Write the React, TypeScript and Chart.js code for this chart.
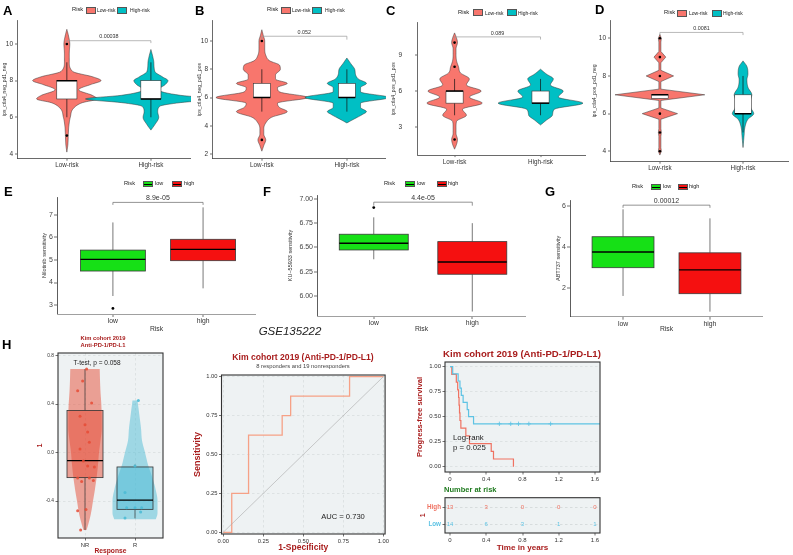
import React, { useEffect, useRef } from 'react';
import { Chart, registerables } from 'chart.js';

Chart.register(...registerables);

const FONT = '"Liberation Sans", Arial, Helvetica, sans-serif';
const SALMON = '#F8766D';
const TEAL = '#00BFC4';
const GREEN = '#16E016';
const RED = '#F51010';
const DARKRED = '#A81C1C';
const NPG_RED = '#E64B35';
const NPG_BLUE = '#4DBBD5';
const KM_HIGH = '#EF7262';
const KM_LOW = '#5EC3E4';
const ROC_COL = '#F6A186';
const PANEL_BG = '#EEF2F3';

// ======================= DATA =======================
// Row 1 (A–D): violin + box plots, Low-risk vs High-risk
const RISK_LABELS = ['Low-risk', 'High-risk'];

const A_TICKS = [4, 6, 8, 10];
const A_LOW_Y = [4.1, 4.5, 5, 5.5, 6, 6.5, 6.8, 7, 7.2, 7.5, 7.8, 8, 8.2, 8.5, 9, 9.5, 10, 10.5, 10.8];
const A_LOW_D = [0, 0.012, 0.017, 0.023, 0.041, 0.081, 0.186, 0.36, 0.302, 0.14, 0.291, 0.407, 0.314, 0.07, 0.029, 0.029, 0.035, 0.017, 0];
const A_HIGH_Y = [5.3, 5.6, 6, 6.3, 6.6, 6.8, 7, 7.2, 7.5, 7.8, 8, 8.2, 8.5, 9, 9.3, 9.7];
const A_HIGH_D = [0, 0.047, 0.093, 0.081, 0.105, 0.349, 0.779, 0.349, 0.093, 0.174, 0.203, 0.14, 0.047, 0.035, 0.023, 0];
const A_LOW_BOX = [6, 7, 8, 8, 9]; // lower whisker, Q1, median, Q3, upper whisker
const A_HIGH_BOX = [6, 7, 7, 8, 9];
const A_LOW_OUT = [10, 5];
const A_HIGH_OUT: number[] = [];
const A_P = '0.00038';

const B_TICKS = [2, 4, 6, 8, 10];
const B_LOW_Y = [2.2, 2.6, 3, 3.4, 3.8, 4.2, 4.6, 5, 5.3, 5.6, 6, 6.4, 6.7, 7, 7.3, 7.6, 8, 8.3, 8.6, 9, 9.5, 10, 10.4, 10.8];
const B_LOW_D = [0, 0.023, 0.046, 0.023, 0.023, 0.046, 0.115, 0.299, 0.207, 0.184, 0.54, 0.207, 0.184, 0.299, 0.161, 0.161, 0.218, 0.207, 0.092, 0.046, 0.034, 0.034, 0.017, 0];
const B_HIGH_Y = [4.2, 4.5, 4.8, 5, 5.3, 5.6, 6, 6.4, 6.7, 7, 7.3, 7.6, 8, 8.4, 8.8];
const B_HIGH_D = [0, 0.092, 0.184, 0.23, 0.161, 0.161, 0.494, 0.161, 0.161, 0.23, 0.138, 0.103, 0.092, 0.046, 0];
const B_LOW_BOX = [5, 6, 6, 7, 8];
const B_HIGH_BOX = [5, 6, 6, 7, 8];
const B_LOW_OUT = [10, 3];
const B_HIGH_OUT: number[] = [];
const B_P = '0.052';

const C_TICKS = [3, 6, 9];
const C_LOW_Y = [1.2, 1.6, 2, 2.5, 3, 3.5, 4, 4.5, 5, 5.5, 6, 6.5, 7, 7.5, 8, 8.5, 9, 9.5, 10, 10.5, 10.8];
const C_LOW_D = [0, 0.023, 0.034, 0.017, 0.017, 0.023, 0.138, 0.092, 0.322, 0.172, 0.31, 0.138, 0.172, 0.069, 0.046, 0.023, 0.017, 0.017, 0.034, 0.017, 0];
const C_HIGH_Y = [3.2, 3.6, 4, 4.5, 5, 5.5, 6, 6.5, 7, 7.4, 7.8];
const C_HIGH_D = [0, 0.069, 0.138, 0.161, 0.494, 0.207, 0.264, 0.115, 0.149, 0.069, 0];
const C_LOW_BOX = [4, 5, 6, 6, 7];
const C_HIGH_BOX = [4, 5, 5, 6, 7];
const C_LOW_OUT = [10, 8, 2];
const C_HIGH_OUT: number[] = [];
const C_P = '0.089';

const D_TICKS = [4, 6, 8, 10];
const D_LOW_Y = [3.8, 4, 4.2, 4.8, 5, 5.2, 5.7, 6, 6.3, 6.7, 7, 7.3, 7.7, 8, 8.3, 8.7, 9, 9.3, 9.8, 10, 10.2];
const D_LOW_D = [0, 0.018, 0.012, 0.012, 0.018, 0.012, 0.012, 0.212, 0.012, 0.012, 0.54, 0.012, 0.012, 0.165, 0.012, 0.012, 0.071, 0.012, 0.012, 0.018, 0];
const D_HIGH_Y = [4.2, 4.8, 5.3, 5.7, 6, 6.3, 6.6, 7, 7.4, 7.8, 8.1, 8.5, 8.8];
const D_HIGH_D = [0, 0.012, 0.024, 0.059, 0.129, 0.094, 0.082, 0.106, 0.059, 0.047, 0.059, 0.047, 0];
const D_LOW_BOX = [7, 6.8, 7, 7, 7];
const D_HIGH_BOX = [5, 6, 6, 7, 8];
const D_LOW_OUT = [10, 9, 8, 6, 5, 4];
const D_HIGH_OUT: number[] = [];
const D_P = '0.0081';

// Row 2 (E–G): drug sensitivity box plots
const DRUG_LABELS = ['low', 'high'];
const E_TICKS = [3, 4, 5, 6, 7];
const E_LOW_BOX = [3.4, 4.51, 5.03, 5.44, 6.67];
const E_HIGH_BOX = [3.74, 4.97, 5.47, 5.92, 7.34];
const E_LOW_OUT = [2.85];
const E_P = '8.9e-05';

const F_TICKS = [6, 6.25, 6.5, 6.75, 7];
const F_TICK_LABELS = ['6.00', '6.25', '6.50', '6.75', '7.00'];
const F_LOW_BOX = [6.378, 6.474, 6.543, 6.636, 6.81];
const F_HIGH_BOX = [5.84, 6.224, 6.35, 6.56, 6.75];
const F_LOW_OUT = [6.91];
const F_P = '4.4e-05';

const G_TICKS = [2, 4, 6];
const G_LOW_BOX = [1.63, 3.0, 3.76, 4.5, 5.83];
const G_HIGH_BOX = [0.87, 1.74, 2.89, 3.72, 5.39];
const G_P = '0.00012';

// Row 3 (H): GSE135222
const RESP_LABELS = ['NR', 'R'];
const H_TICKS = [-0.4, 0, 0.4, 0.8];
const H_TICK_LABELS = ['-0.4', '0.0', '0.4', '0.8'];
const NR_VIOLIN_Y = [-0.64, -0.6, -0.5, -0.4, -0.3, -0.2, -0.1, 0, 0.1, 0.2, 0.3, 0.4, 0.5, 0.6, 0.69];
const NR_VIOLIN_D = [0.03, 0.06, 0.12, 0.16, 0.2, 0.234, 0.26, 0.28, 0.31, 0.334, 0.334, 0.326, 0.31, 0.3, 0.294];
const R_VIOLIN_Y = [-0.55, -0.5, -0.4, -0.3, -0.2, -0.1, 0, 0.1, 0.2, 0.3, 0.43];
const R_VIOLIN_D = [0.416, 0.45, 0.45, 0.41, 0.34, 0.26, 0.2, 0.14, 0.12, 0.09, 0.05];
const NR_BOX = [-0.64, -0.207, -0.066, 0.348, 0.69];
const R_BOX = [-0.543, -0.469, -0.392, -0.119, -0.1];
const NR_VALUES = [0.69, 0.59, 0.51, 0.41, 0.3, 0.23, 0.17, 0.085, 0.03, -0.07, -0.11, -0.12, -0.21, -0.21, -0.23, -0.24, -0.47, -0.48, -0.64];
const NR_JITTER = [0.033, -0.047, -0.147, 0.133, -0.1, 0, 0.053, 0.087, -0.1, -0.033, 0.053, 0.187, -0.147, 0.087, 0.167, -0.067, 0.02, -0.147, -0.087];
const R_VALUES = [0.43, -0.11, -0.33, -0.455, -0.455, -0.455, -0.49, -0.54];
const R_JITTER = [0.067, 0, -0.2, -0.167, 0, 0.133, 0.113, -0.2];

const ROC_TICKS = [0, 0.25, 0.5, 0.75, 1];
const ROC_TICK_LABELS = ['0.00', '0.25', '0.50', '0.75', '1.00'];
const ROC_FPR = [0, 0.053, 0.158, 0.368, 0.421, 0.789, 1];
const ROC_TPR = [0, 0.25, 0.625, 0.75, 0.875, 1, 1];

const KM_Y_TICKS = [0, 0.25, 0.5, 0.75, 1];
const KM_Y_LABELS = ['0.00', '0.25', '0.50', '0.75', '1.00'];
const KM_X_TICKS = [0, 0.4, 0.8, 1.2, 1.6];
const KM_X_LABELS = ['0', '0.4', '0.8', '1.2', '1.6'];
const KM_LOW_T = [0, 0.03, 0.09, 0.11, 0.125, 0.145, 0.19, 0.205, 0.26, 1.66];
const KM_LOW_S = [1, 0.929, 0.857, 0.786, 0.714, 0.643, 0.571, 0.5, 0.429, 0.429];
const KM_LOW_CENSOR_T = [0.545, 0.67, 0.756, 0.87, 1.11];
const KM_HIGH_T = [0, 0.02, 0.07, 0.085, 0.095, 0.1, 0.105, 0.11, 0.12, 0.175, 0.215, 0.455, 0.48, 0.7];
const KM_HIGH_S = [1, 0.923, 0.846, 0.769, 0.692, 0.615, 0.538, 0.462, 0.385, 0.308, 0.231, 0.154, 0.077, 0];
const RISK_ROWS = ['Low', 'High'];
const RISK_HIGH_N = [13, 3, 0, 0, 0];
const RISK_LOW_N = [14, 6, 3, 1, 1];

// ======================= HELPERS =======================
type Rect = { l: number; t: number; r: number; b: number };
type AxisSpec = {
  min: number; max: number; ticks: number[]; labels?: string[];
  fontSize: number; color?: string | string[]; bold?: boolean;
  tickLen: number; tickPad: number; tickColor?: string;
  line?: boolean; lineColor?: string; lineWidth?: number;
  grid?: { color: string; width: number; dash?: number[] };
  title?: string; titleSize?: number; titleColor?: string; titleBold?: boolean;
};
type Violin = { x: number; ys: number[]; ws: number[]; fill: string; stroke: string; lw: number; smooth: boolean };
type Box = { x: number; half: number; s: number[]; fill: string; stroke: string; lw: number; medW: number; whisker: string; whiskerW: number };
type Bracket = { y: number; y1: number; y2: number; text: string; color: string; textColor: string; size: number };
type DText = { x: number; y: number; text: string; color: string; size: number; bold?: boolean };
type Kit = { bg?: string; border?: { color: string; width: number }; violins?: Violin[]; boxes?: Box[]; bracket?: Bracket; texts?: DText[] };
type PanelSpec = { canvas: Rect; area: Rect; x: AxisSpec; y: AxisSpec; yTitleX?: number; padL?: number; xTitleY?: number; datasets: any[]; kit: Kit };

function monotone(ys: number[], ws: number[], steps: number): Array<[number, number]> {
  const n = ys.length;
  const dx: number[] = [];
  const s: number[] = [];
  for (let i = 0; i < n - 1; i++) { dx.push(ys[i + 1] - ys[i]); s.push((ws[i + 1] - ws[i]) / dx[i]); }
  const m: number[] = new Array(n).fill(0);
  m[0] = s[0]; m[n - 1] = s[n - 2];
  for (let i = 1; i < n - 1; i++) m[i] = s[i - 1] * s[i] <= 0 ? 0 : (s[i - 1] + s[i]) / 2;
  for (let i = 0; i < n - 1; i++) {
    if (s[i] === 0) { m[i] = 0; m[i + 1] = 0; continue; }
    const a = m[i] / s[i], b = m[i + 1] / s[i], h = a * a + b * b;
    if (h > 9) { const t = 3 / Math.sqrt(h); m[i] = t * a * s[i]; m[i + 1] = t * b * s[i]; }
  }
  const out: Array<[number, number]> = [];
  for (let i = 0; i < n - 1; i++) {
    for (let k = 0; k < steps; k++) {
      const t = k / steps, t2 = t * t, t3 = t2 * t;
      const h00 = 2 * t3 - 3 * t2 + 1, h10 = t3 - 2 * t2 + t, h01 = -2 * t3 + 3 * t2, h11 = t3 - t2;
      const w = h00 * ws[i] + h10 * dx[i] * m[i] + h01 * ws[i + 1] + h11 * dx[i] * m[i + 1];
      out.push([ys[i] + t * dx[i], Math.max(0, w)]);
    }
  }
  out.push([ys[n - 1], ws[n - 1]]);
  return out;
}

function drawViolin(ctx: CanvasRenderingContext2D, sx: any, sy: any, v: Violin) {
  const pts = v.smooth ? monotone(v.ys, v.ws, 8) : v.ys.map((y, i) => [y, v.ws[i]] as [number, number]);
  ctx.beginPath();
  pts.forEach(([y, w], i) => {
    const px = sx.getPixelForValue(v.x + w), py = sy.getPixelForValue(y);
    if (i === 0) ctx.moveTo(px, py); else ctx.lineTo(px, py);
  });
  for (let i = pts.length - 1; i >= 0; i--) {
    const [y, w] = pts[i];
    ctx.lineTo(sx.getPixelForValue(v.x - w), sy.getPixelForValue(y));
  }
  ctx.closePath();
  ctx.fillStyle = v.fill;
  ctx.fill();
  if (v.lw > 0) { ctx.strokeStyle = v.stroke; ctx.lineWidth = v.lw; ctx.stroke(); }
}

function drawBox(ctx: CanvasRenderingContext2D, sx: any, sy: any, b: Box) {
  const [lo, q1, med, q3, hi] = b.s;
  const xc = sx.getPixelForValue(b.x), xl = sx.getPixelForValue(b.x - b.half), xr = sx.getPixelForValue(b.x + b.half);
  ctx.strokeStyle = b.whisker; ctx.lineWidth = b.whiskerW;
  ctx.beginPath();
  ctx.moveTo(xc, sy.getPixelForValue(lo)); ctx.lineTo(xc, sy.getPixelForValue(q1));
  ctx.moveTo(xc, sy.getPixelForValue(q3)); ctx.lineTo(xc, sy.getPixelForValue(hi));
  ctx.stroke();
  const yt = sy.getPixelForValue(q3), yb = sy.getPixelForValue(q1);
  ctx.fillStyle = b.fill;
  ctx.fillRect(xl, yt, xr - xl, yb - yt);
  ctx.strokeStyle = b.stroke; ctx.lineWidth = b.lw;
  ctx.strokeRect(xl, yt, xr - xl, yb - yt);
  ctx.strokeStyle = '#000'; ctx.lineWidth = b.medW;
  ctx.beginPath();
  const ym = sy.getPixelForValue(med);
  ctx.moveTo(xl, ym); ctx.lineTo(xr, ym); ctx.stroke();
}

function kitPlugin(kit: Kit) {
  return {
    id: 'kit',
    beforeDraw(chart: any) {
      if (!kit.bg) return;
      const { ctx, chartArea: a } = chart;
      ctx.save(); ctx.fillStyle = kit.bg; ctx.fillRect(a.left, a.top, a.right - a.left, a.bottom - a.top); ctx.restore();
    },
    beforeDatasetsDraw(chart: any) {
      const { ctx, chartArea: a, scales } = chart;
      ctx.save();
      ctx.beginPath(); ctx.rect(a.left, a.top, a.right - a.left, a.bottom - a.top); ctx.clip();
      for (const v of kit.violins || []) drawViolin(ctx, scales.x, scales.y, v);
      for (const b of kit.boxes || []) drawBox(ctx, scales.x, scales.y, b);
      ctx.restore();
    },
    afterDatasetsDraw(chart: any) {
      const { ctx, scales } = chart;
      const sx = scales.x, sy = scales.y;
      ctx.save();
      const br = kit.bracket;
      if (br) {
        const x1 = sx.getPixelForValue(1), x2 = sx.getPixelForValue(2);
        const y = sy.getPixelForValue(br.y);
        ctx.strokeStyle = br.color; ctx.lineWidth = 0.7;
        ctx.beginPath();
        ctx.moveTo(x1, sy.getPixelForValue(br.y1)); ctx.lineTo(x1, y); ctx.lineTo(x2, y); ctx.lineTo(x2, sy.getPixelForValue(br.y2));
        ctx.stroke();
        ctx.fillStyle = br.textColor; ctx.font = `${br.size}px ${FONT}`;
        ctx.textAlign = 'center'; ctx.textBaseline = 'bottom';
        ctx.fillText(br.text, (x1 + x2) / 2, y - 1);
      }
      for (const t of kit.texts || []) {
        ctx.fillStyle = t.color; ctx.font = `${t.bold ? 'bold ' : ''}${t.size}px ${FONT}`;
        ctx.textAlign = 'center'; ctx.textBaseline = 'middle';
        ctx.fillText(t.text, sx.getPixelForValue(t.x), sy.getPixelForValue(t.y));
      }
      ctx.restore();
    },
    afterDraw(chart: any) {
      if (!kit.border) return;
      const { ctx, chartArea: a } = chart;
      ctx.save(); ctx.strokeStyle = kit.border.color; ctx.lineWidth = kit.border.width;
      ctx.strokeRect(a.left, a.top, a.right - a.left, a.bottom - a.top); ctx.restore();
    },
  };
}

function buildAxis(a: AxisSpec, horizontal: boolean, size: number) {
  return {
    type: 'linear',
    position: horizontal ? 'bottom' : 'left',
    min: a.min, max: a.max, bounds: 'data',
    afterBuildTicks: (s: any) => { s.ticks = a.ticks.map((v) => ({ value: v })); },
    afterFit: (s: any) => { if (horizontal) s.height = size; else s.width = size; },
    ticks: {
      autoSkip: false, maxRotation: 0, minRotation: 0, padding: a.tickPad,
      color: a.color ?? '#333',
      font: { family: FONT, size: a.fontSize, weight: a.bold ? 'bold' : 'normal' },
      callback: (v: number, i: number) => (a.labels ? a.labels[i] : String(v)),
    },
    grid: {
      display: true,
      drawOnChartArea: !!a.grid,
      color: a.grid ? a.grid.color : 'rgba(0,0,0,0)',
      lineWidth: a.grid ? a.grid.width : 0,
      drawTicks: a.tickLen > 0,
      tickLength: a.tickLen,
      tickColor: a.tickColor ?? '#333',
      tickWidth: 0.7,
    },
    border: { display: a.line !== false, color: a.lineColor ?? '#333', width: a.lineWidth ?? 0.8, dash: a.grid && a.grid.dash ? a.grid.dash : [] },
    title: a.title
      ? { display: true, text: a.title, padding: 0, color: a.titleColor ?? '#222', font: { family: FONT, size: a.titleSize, weight: a.titleBold ? 'bold' : 'normal' } }
      : { display: false },
  };
}

function makeConfig(p: PanelSpec): any {
  const padL = p.y.title && p.yTitleX !== undefined ? p.yTitleX - ((p.y.titleSize || 6) * 1.2) / 2 - p.canvas.l : (p.padL ?? 1);
  const yW = p.area.l - p.canvas.l - padL;
  const xBottom = p.x.title && p.xTitleY !== undefined ? p.xTitleY + ((p.x.titleSize || 6) * 1.2) / 2 : p.canvas.b;
  const xH = xBottom - p.area.b;
  return {
    type: 'scatter',
    data: { datasets: p.datasets },
    options: {
      responsive: false, animation: false, devicePixelRatio: 1, events: [],
      layout: { padding: { left: padL, top: p.area.t - p.canvas.t, right: p.canvas.r - p.area.r, bottom: p.canvas.b - xBottom } },
      scales: { x: buildAxis(p.x, true, xH), y: buildAxis(p.y, false, yW) },
      plugins: { legend: { display: false }, tooltip: { enabled: false }, title: { display: false } },
    },
    plugins: [kitPlugin(p.kit)],
  };
}

function riskViolinPanel(o: {
  canvas: Rect; area: Rect; xMin: number; xMax: number; yMin: number; yMax: number; ticks: number[];
  yTitle: string; yTitleX: number; tickPad: number;
  lowY: number[]; lowD: number[]; highY: number[]; highD: number[]; lowSmooth: boolean;
  lowBox: number[]; highBox: number[]; lowOut: number[]; highOut: number[]; boxHalf: number;
  p: string; pY: number; pY1: number; pY2: number;
}): PanelSpec {
  const box = (x: number, s: number[]): Box => ({ x, half: o.boxHalf, s, fill: '#FFFFFF', stroke: '#333', lw: 0.6, medW: 1.5, whisker: '#111', whiskerW: 0.7 });
  return {
    canvas: o.canvas, area: o.area, yTitleX: o.yTitleX,
    x: { min: o.xMin, max: o.xMax, ticks: [1, 2], labels: RISK_LABELS, fontSize: 6.3, color: '#333', tickLen: 2, tickPad: 1, lineColor: '#444' },
    y: { min: o.yMin, max: o.yMax, ticks: o.ticks, fontSize: 6.5, color: '#333', tickLen: 2, tickPad: o.tickPad, lineColor: '#444', title: o.yTitle, titleSize: 5, titleColor: '#333' },
    datasets: [{
      data: [...o.lowOut.map((v) => ({ x: 1, y: v })), ...o.highOut.map((v) => ({ x: 2, y: v }))],
      pointRadius: 1.3, pointBackgroundColor: '#000', pointBorderWidth: 0,
    }],
    kit: {
      violins: [
        { x: 1, ys: o.lowY, ws: o.lowD, fill: SALMON, stroke: '#333', lw: 0.5, smooth: o.lowSmooth },
        { x: 2, ys: o.highY, ws: o.highD, fill: TEAL, stroke: '#333', lw: 0.5, smooth: true },
      ],
      boxes: [box(1, o.lowBox), box(2, o.highBox)],
      bracket: { y: o.pY, y1: o.pY1, y2: o.pY2, text: o.p, color: '#999', textColor: '#333', size: 5.4 },
    },
  };
}

function drugBoxPanel(o: {
  canvas: Rect; area: Rect; xMin: number; xMax: number; yMin: number; yMax: number; ticks: number[]; tickLabels?: string[];
  yTitle: string; yTitleX: number; lowBox: number[]; highBox: number[]; lowOut: number[]; boxHalf: number;
  p: string; pY: number; pY1: number; pY2: number;
}): PanelSpec {
  const box = (x: number, s: number[], fill: string): Box => ({ x, half: o.boxHalf, s, fill, stroke: '#3a3a3a', lw: 0.8, medW: 1.3, whisker: '#555', whiskerW: 0.8 });
  return {
    canvas: o.canvas, area: o.area, yTitleX: o.yTitleX, xTitleY: 329,
    x: { min: o.xMin, max: o.xMax, ticks: [1, 2], labels: DRUG_LABELS, fontSize: 6.8, color: '#333', tickLen: 3, tickPad: 0, lineColor: '#888', title: 'Risk', titleSize: 6.8, titleColor: '#333' },
    y: { min: o.yMin, max: o.yMax, ticks: o.ticks, labels: o.tickLabels, fontSize: 7, color: '#444', tickLen: 3, tickPad: 1, lineColor: '#333', title: o.yTitle, titleSize: 5.5, titleColor: '#333' },
    datasets: [{ data: o.lowOut.map((v) => ({ x: 1, y: v })), pointRadius: 1.4, pointBackgroundColor: '#000', pointBorderWidth: 0 }],
    kit: {
      boxes: [box(1, o.lowBox, GREEN), box(2, o.highBox, RED)],
      bracket: { y: o.pY, y1: o.pY1, y2: o.pY2, text: o.p, color: '#666', textColor: '#333', size: 7 },
    },
  };
}

const rocGrid = { color: '#D2D6D8', width: 0.6, dash: [2.5, 2.5] };

const PANELS: PanelSpec[] = [
  riskViolinPanel({
    canvas: { l: 0, t: 0, r: 195, b: 172 }, area: { l: 17, t: 20, r: 195, b: 158.7 },
    xMin: 0.407, xMax: 2.477, yMin: 3.74, yMax: 11.31, ticks: A_TICKS, yTitle: 'ips_ctla4_neg_pd1_neg', yTitleX: 5, tickPad: 2,
    lowY: A_LOW_Y, lowD: A_LOW_D, highY: A_HIGH_Y, highD: A_HIGH_D, lowSmooth: true,
    lowBox: A_LOW_BOX, highBox: A_HIGH_BOX, lowOut: A_LOW_OUT, highOut: A_HIGH_OUT, boxHalf: 0.12,
    p: A_P, pY: 10.18, pY1: 10.05, pY2: 10.05,
  }),
  riskViolinPanel({
    canvas: { l: 195, t: 0, r: 390, b: 172 }, area: { l: 212, t: 20, r: 390, b: 158.7 },
    xMin: 0.414, xMax: 2.46, yMin: 1.667, yMax: 11.49, ticks: B_TICKS, yTitle: 'ips_ctla4_neg_pd1_pos', yTitleX: 200, tickPad: 2,
    lowY: B_LOW_Y, lowD: B_LOW_D, highY: B_HIGH_Y, highD: B_HIGH_D, lowSmooth: true,
    lowBox: B_LOW_BOX, highBox: B_HIGH_BOX, lowOut: B_LOW_OUT, highOut: B_HIGH_OUT, boxHalf: 0.1,
    p: B_P, pY: 10.34, pY1: 10.1, pY2: 10.1,
  }),
  riskViolinPanel({
    canvas: { l: 390, t: 0, r: 590, b: 172 }, area: { l: 417, t: 22, r: 588, b: 159.3 },
    xMin: 0.563, xMax: 2.529, yMin: 0.712, yMax: 11.7, ticks: C_TICKS, yTitle: 'ips_ctla4_pos_pd1_pos', yTitleX: 394, tickPad: 13,
    lowY: C_LOW_Y, lowD: C_LOW_D, highY: C_HIGH_Y, highD: C_HIGH_D, lowSmooth: true,
    lowBox: C_LOW_BOX, highBox: C_HIGH_BOX, lowOut: C_LOW_OUT, highOut: C_HIGH_OUT, boxHalf: 0.1,
    p: C_P, pY: 10.47, pY1: 10.25, pY2: 10.25,
  }),
  riskViolinPanel({
    canvas: { l: 590, t: 0, r: 793, b: 172 }, area: { l: 610, t: 20, r: 793, b: 161.7 },
    xMin: 0.4, xMax: 2.553, yMin: 3.448, yMax: 10.97, ticks: D_TICKS, yTitle: 'ips_ctla4_pos_pd1_neg', yTitleX: 595, tickPad: 2,
    lowY: D_LOW_Y, lowD: D_LOW_D, highY: D_HIGH_Y, highD: D_HIGH_D, lowSmooth: false,
    lowBox: D_LOW_BOX, highBox: D_HIGH_BOX, lowOut: D_LOW_OUT, highOut: D_HIGH_OUT, boxHalf: 0.1,
    p: D_P, pY: 10.31, pY1: 10.17, pY2: 10.17,
  }),
  drugBoxPanel({
    canvas: { l: 0, t: 175, r: 260, b: 340 }, area: { l: 57, t: 197, r: 260, b: 314 },
    xMin: 0.38, xMax: 2.587, yMin: 2.6, yMax: 7.8, ticks: E_TICKS, yTitle: 'Nilotinib sensitivity', yTitleX: 44,
    lowBox: E_LOW_BOX, highBox: E_HIGH_BOX, lowOut: E_LOW_OUT, boxHalf: 0.36, p: E_P, pY: 7.56, pY1: 7.45, pY2: 7.45,
  }),
  drugBoxPanel({
    canvas: { l: 260, t: 175, r: 530, b: 340 }, area: { l: 317, t: 195, r: 527, b: 316 },
    xMin: 0.424, xMax: 2.545, yMin: 5.794, yMax: 7.04, ticks: F_TICKS, tickLabels: F_TICK_LABELS, yTitle: 'KU\u221255933 sensitivity', yTitleX: 290,
    lowBox: F_LOW_BOX, highBox: F_HIGH_BOX, lowOut: F_LOW_OUT, boxHalf: 0.35, p: F_P, pY: 6.966, pY1: 6.93, pY2: 6.93,
  }),
  drugBoxPanel({
    canvas: { l: 530, t: 175, r: 793, b: 340 }, area: { l: 570, t: 200, r: 763, b: 316.7 },
    xMin: 0.39, xMax: 2.61, yMin: 0.625, yMax: 6.28, ticks: G_TICKS, yTitle: 'ABT737 sensitivity', yTitleX: 558,
    lowBox: G_LOW_BOX, highBox: G_HIGH_BOX, lowOut: [], boxHalf: 0.356, p: G_P, pY: 6.03, pY1: 5.9, pY2: 5.9,
  }),
  // H: violin/box of responders
  {
    canvas: { l: 0, t: 330, r: 170, b: 555 }, area: { l: 58, t: 353, r: 163, b: 538 }, yTitleX: 40, xTitleY: 551,
    x: { min: 0.46, max: 2.56, ticks: [1, 2], labels: RESP_LABELS, fontSize: 5.8, color: '#333', tickLen: 2.5, tickPad: 1, line: false, grid: rocGrid, title: 'Response', titleSize: 6.7, titleBold: true, titleColor: DARKRED },
    y: { min: -0.7055, max: 0.822, ticks: H_TICKS, labels: H_TICK_LABELS, fontSize: 4.8, color: '#333', tickLen: 2.5, tickPad: 1.5, line: false, grid: rocGrid, title: '1', titleSize: 7, titleBold: true, titleColor: DARKRED },
    datasets: [
      { data: NR_VALUES.map((v, i) => ({ x: 1 + NR_JITTER[i], y: v })), pointRadius: 1.5, pointBackgroundColor: 'rgba(230,75,53,0.85)', pointBorderWidth: 0 },
      { data: R_VALUES.map((v, i) => ({ x: 2 + R_JITTER[i], y: v })), pointRadius: 1.5, pointBackgroundColor: 'rgba(77,187,213,0.9)', pointBorderWidth: 0 },
    ],
    kit: {
      bg: PANEL_BG, border: { color: '#333', width: 1.1 },
      violins: [
        { x: 1, ys: NR_VIOLIN_Y, ws: NR_VIOLIN_D, fill: 'rgba(230,75,53,0.5)', stroke: 'rgba(0,0,0,0)', lw: 0, smooth: true },
        { x: 2, ys: R_VIOLIN_Y, ws: R_VIOLIN_D, fill: 'rgba(77,187,213,0.5)', stroke: 'rgba(0,0,0,0)', lw: 0, smooth: true },
      ],
      boxes: [
        { x: 1, half: 0.36, s: NR_BOX, fill: 'rgba(230,75,53,0.5)', stroke: '#333', lw: 0.8, medW: 1.2, whisker: '#333', whiskerW: 0.7 },
        { x: 2, half: 0.36, s: R_BOX, fill: 'rgba(77,187,213,0.5)', stroke: '#333', lw: 0.8, medW: 1.2, whisker: '#333', whiskerW: 0.7 },
      ],
    },
  },
  // ROC
  {
    canvas: { l: 170, t: 370, r: 395, b: 555 }, area: { l: 221.5, t: 375, r: 385.1, b: 534 }, yTitleX: 198, xTitleY: 548,
    x: { min: -0.011, max: 1.011, ticks: ROC_TICKS, labels: ROC_TICK_LABELS, fontSize: 5.8, color: '#333', tickLen: 2.5, tickPad: 1.5, line: false, grid: rocGrid, title: '1-Specificity', titleSize: 8.5, titleBold: true, titleColor: DARKRED },
    y: { min: -0.011, max: 1.011, ticks: ROC_TICKS, labels: ROC_TICK_LABELS, fontSize: 5.8, color: '#333', tickLen: 2.5, tickPad: 1.5, line: false, grid: rocGrid, title: 'Sensitivity', titleSize: 9, titleBold: true, titleColor: DARKRED },
    datasets: [
      { data: [{ x: 0, y: 0 }, { x: 1, y: 1 }], showLine: true, borderColor: '#AAAAAA', borderWidth: 0.6, pointRadius: 0 },
      { data: ROC_FPR.map((v, i) => ({ x: v, y: ROC_TPR[i] })), showLine: true, stepped: 'before', borderColor: ROC_COL, borderWidth: 1.3, pointRadius: 0 },
    ],
    kit: { bg: PANEL_BG, border: { color: '#333', width: 1.1 } },
  },
  // KM
  {
    canvas: { l: 390, t: 350, r: 605, b: 490 }, area: { l: 445, t: 362, r: 600, b: 472 }, yTitleX: 420,
    x: { min: -0.055, max: 1.655, ticks: KM_X_TICKS, labels: KM_X_LABELS, fontSize: 6, color: '#333', tickLen: 2.5, tickPad: 1.5, line: false },
    y: { min: -0.053, max: 1.047, ticks: KM_Y_TICKS, labels: KM_Y_LABELS, fontSize: 6, color: '#333', tickLen: 2.5, tickPad: 1.5, line: false, grid: rocGrid, title: 'Progress-free survival', titleSize: 7.6, titleBold: true, titleColor: DARKRED },
    datasets: [
      { data: KM_LOW_T.map((t, i) => ({ x: t, y: KM_LOW_S[i] })), showLine: true, stepped: 'before', borderColor: KM_LOW, borderWidth: 1.2, pointRadius: 0 },
      { data: KM_HIGH_T.map((t, i) => ({ x: t, y: KM_HIGH_S[i] })), showLine: true, stepped: 'before', borderColor: KM_HIGH, borderWidth: 1.2, pointRadius: 0 },
      { data: KM_LOW_CENSOR_T.map((t) => ({ x: t, y: KM_LOW_S[KM_LOW_S.length - 1] })), pointStyle: 'cross', pointRadius: 2.2, borderColor: KM_LOW, pointBorderWidth: 0.8 },
    ],
    kit: { bg: PANEL_BG, border: { color: '#333', width: 1.1 } },
  },
  // Risk table
  {
    canvas: { l: 390, t: 492, r: 605, b: 555 }, area: { l: 445, t: 497.7, r: 600, b: 533 }, yTitleX: 423, xTitleY: 548,
    x: { min: -0.055, max: 1.655, ticks: KM_X_TICKS, labels: KM_X_LABELS, fontSize: 6, color: '#333', tickLen: 2.5, tickPad: 1.5, line: false, title: 'Time in years', titleSize: 8.1, titleBold: true, titleColor: DARKRED },
    y: { min: 0.476, max: 2.6, ticks: [1, 2], labels: RISK_ROWS, fontSize: 6.3, bold: true, color: [KM_LOW, KM_HIGH], tickLen: 2.5, tickPad: 1.5, line: false, grid: { color: '#C8CCCE', width: 0.6, dash: [2.5, 2.5] }, title: '1', titleSize: 7, titleBold: true, titleColor: DARKRED },
    datasets: [],
    kit: {
      bg: PANEL_BG, border: { color: '#333', width: 1.1 },
      texts: [
        ...RISK_HIGH_N.map((n, i) => ({ x: KM_X_TICKS[i], y: 2, text: String(n), color: KM_HIGH, size: 6 })),
        ...RISK_LOW_N.map((n, i) => ({ x: KM_X_TICKS[i], y: 1, text: String(n), color: KM_LOW, size: 6 })),
      ],
    },
  },
];

// ======================= COMPONENTS =======================
function ChartBox({ spec }: { spec: PanelSpec }) {
  const ref = useRef<HTMLCanvasElement>(null);
  useEffect(() => {
    const chart = new Chart(ref.current as HTMLCanvasElement, makeConfig(spec));
    return () => chart.destroy();
  }, []);
  const w = spec.canvas.r - spec.canvas.l, h = spec.canvas.b - spec.canvas.t;
  return <canvas ref={ref} width={w} height={h} style={{ position: 'absolute', left: spec.canvas.l, top: spec.canvas.t, width: w, height: h }} />;
}

function Txt({ x, y, size, children, color = '#111', bold = false, italic = false, align = 'left' }: any) {
  const tx = align === 'center' ? '-50%' : align === 'right' ? '-100%' : '0';
  return (
    <div style={{ position: 'absolute', left: x, top: y, transform: `translate(${tx},-50%)`, fontFamily: FONT, fontSize: size, lineHeight: 1, color, fontWeight: bold ? 700 : 400, fontStyle: italic ? 'italic' : 'normal', whiteSpace: 'nowrap' }}>
      {children}
    </div>
  );
}

function Key({ x, y, w, h, fill, median }: any) {
  return (
    <div style={{ position: 'absolute', left: x, top: y - h / 2, width: w, height: h, background: fill, border: '0.6px solid #555', boxSizing: 'border-box' }}>
      {median ? <div style={{ position: 'absolute', left: 0, right: 0, top: '50%', height: 1, marginTop: -0.5, background: '#000' }} /> : null}
    </div>
  );
}

const LETTERS = [
  { t: 'A', x: 3, y: 10 }, { t: 'B', x: 195, y: 10 }, { t: 'C', x: 386, y: 10 }, { t: 'D', x: 595, y: 8.5 },
  { t: 'E', x: 4, y: 190.5 }, { t: 'F', x: 263, y: 190.5 }, { t: 'G', x: 545, y: 190.5 }, { t: 'H', x: 2, y: 344 },
];
const VIOLIN_LEGENDS = [
  { y: 10, xs: [72, 86, 97, 117, 130] },
  { y: 10, xs: [267, 281, 292, 312, 325] },
  { y: 12.7, xs: [458, 473, 485, 507, 518] },
  { y: 13.3, xs: [664, 677, 689, 712, 723] },
];
const BOX_LEGENDS = [
  { y: 184, xs: [124, 143, 155, 172, 184] },
  { y: 184, xs: [384, 405, 417, 437, 448] },
  { y: 187, xs: [632, 651, 663, 678, 689] },
];

export default function App() {
  return (
    <div style={{ position: 'fixed', left: 0, top: 0, width: 793, height: 555, background: '#fff', overflow: 'hidden' }}>
      {PANELS.map((p, i) => <ChartBox key={i} spec={p} />)}
      {LETTERS.map((l) => <Txt key={l.t} x={l.x} y={l.y} size={13} bold color="#000">{l.t}</Txt>)}
      {VIOLIN_LEGENDS.map((lg, i) => (
        <React.Fragment key={'vl' + i}>
          <Txt x={lg.xs[0]} y={lg.y} size={5.8} color="#222">Risk</Txt>
          <Key x={lg.xs[1]} y={lg.y} w={9.5} h={7} fill={SALMON} />
          <Txt x={lg.xs[2]} y={lg.y} size={5} color="#222">{RISK_LABELS[0]}</Txt>
          <Key x={lg.xs[3]} y={lg.y} w={9.5} h={7} fill={TEAL} />
          <Txt x={lg.xs[4]} y={lg.y} size={5} color="#222">{RISK_LABELS[1]}</Txt>
        </React.Fragment>
      ))}
      {BOX_LEGENDS.map((lg, i) => (
        <React.Fragment key={'bl' + i}>
          <Txt x={lg.xs[0]} y={lg.y} size={5.7} color="#222">Risk</Txt>
          <Key x={lg.xs[1]} y={lg.y} w={9.5} h={6} fill={GREEN} median />
          <Txt x={lg.xs[2]} y={lg.y} size={5.5} color="#222">{DRUG_LABELS[0]}</Txt>
          <Key x={lg.xs[3]} y={lg.y} w={9.5} h={6} fill={RED} median />
          <Txt x={lg.xs[4]} y={lg.y} size={5.5} color="#222">{DRUG_LABELS[1]}</Txt>
        </React.Fragment>
      ))}
      <Txt x={290} y={332} size={11.5} italic color="#222" align="center">GSE135222</Txt>
      <Txt x={103} y={339} size={5.8} bold color={DARKRED} align="center">Kim cohort 2019</Txt>
      <Txt x={103} y={346} size={5.8} bold color={DARKRED} align="center">Anti-PD-1/PD-L1</Txt>
      <Txt x={97} y={363} size={6.5} color="#222" align="center">T-test, p = 0.058</Txt>
      <Txt x={303} y={357} size={8.6} bold color={DARKRED} align="center">Kim cohort 2019 (Anti-PD-1/PD-L1)</Txt>
      <Txt x={303} y={367} size={5.8} color="#444" align="center">8 responders and 19 nonresponders</Txt>
      <Txt x={343} y={517} size={7.6} color="#222" align="center">AUC = 0.730</Txt>
      <Txt x={522} y={354} size={9.6} bold color={DARKRED} align="center">Kim cohort 2019 (Anti-PD-1/PD-L1)</Txt>
      <Txt x={453} y={437.7} size={7.8} color="#222">Log-rank</Txt>
      <Txt x={453} y={448} size={7.8} color="#222">p = 0.025</Txt>
      <Txt x={444} y={490} size={7.5} bold color="#1F7A1F">Number at risk</Txt>
    </div>
  );
}
